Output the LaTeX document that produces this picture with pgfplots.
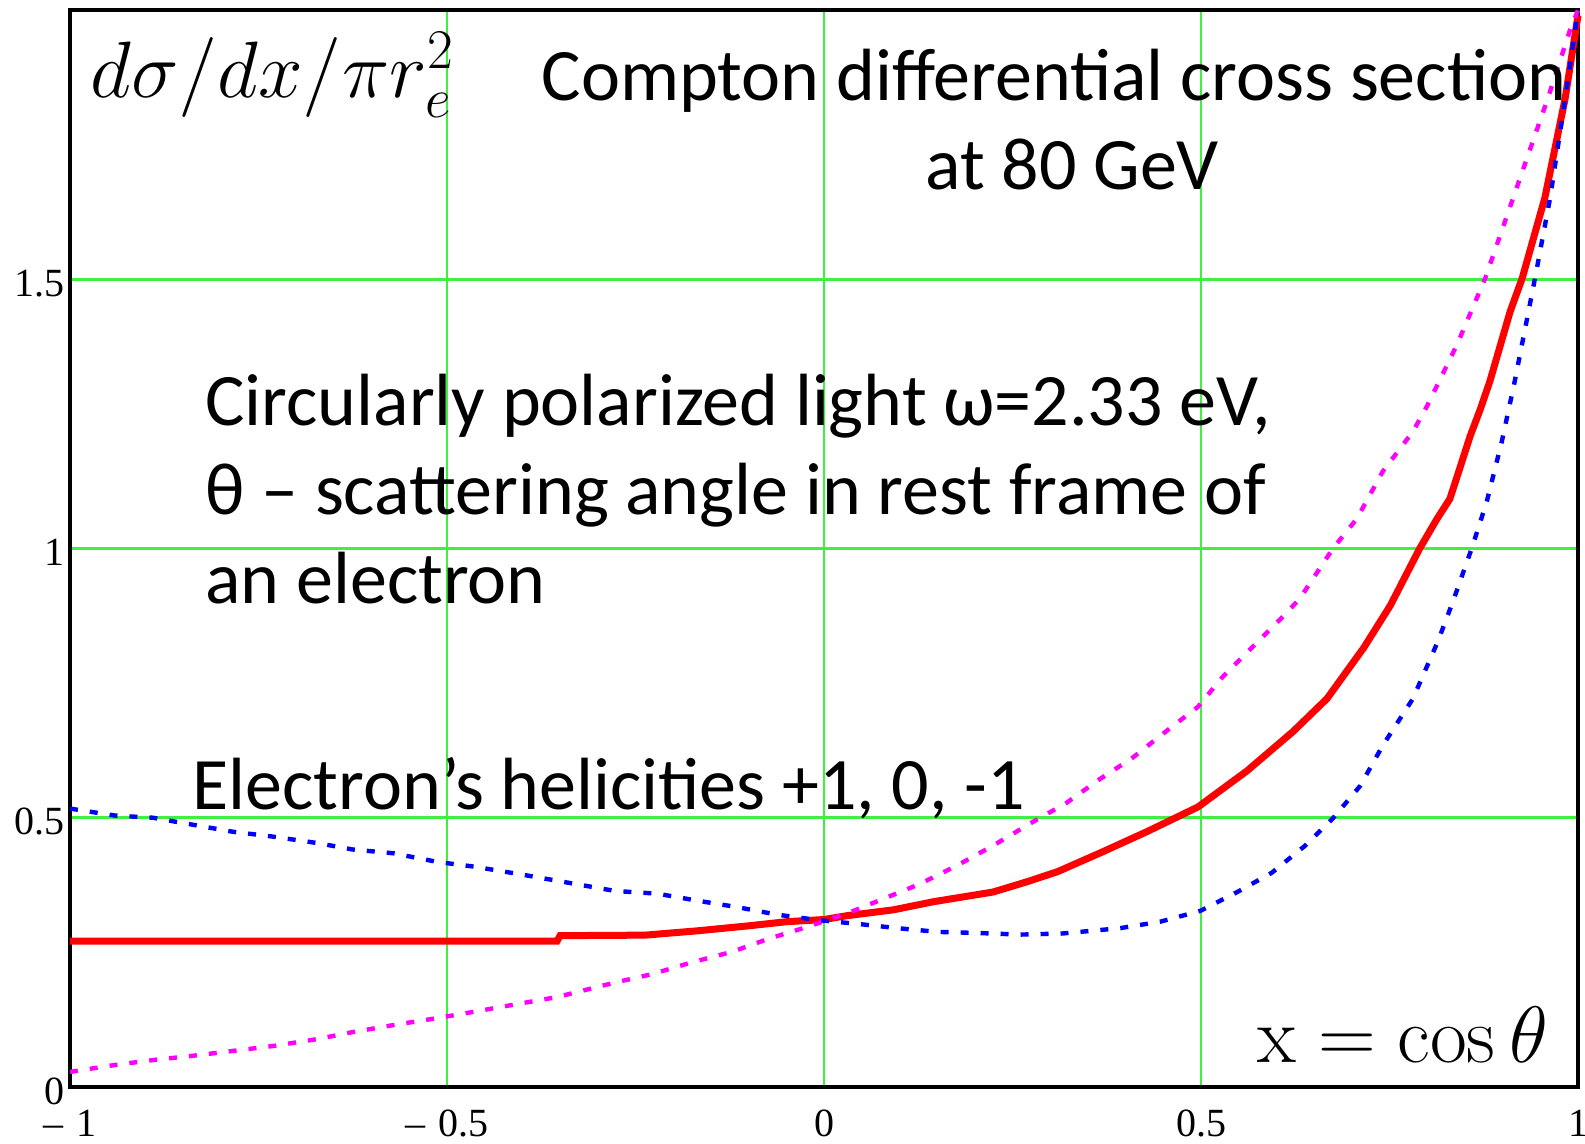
\RequirePackage{fix-cm}
\documentclass[border=0pt]{standalone}
\usepackage[no-math]{fontspec}
\setmainfont{Carlito}
\newfontfamily\tickfont{Liberation Serif}
\usepackage{pgfplots}
\pgfplotsset{compat=1.18}
\definecolor{gridgreen}{RGB}{64,240,64}
\definecolor{mag}{RGB}{255,0,255}
\definecolor{blu}{RGB}{0,0,255}

% helicity +1, 0, -1
\pgfplotstableread{
x y
-1.000 0.271
-0.354 0.271
-0.350 0.281
-0.237 0.282
-0.168 0.290
-0.102 0.299
-0.049 0.307
0.000 0.311
0.030 0.318
0.092 0.329
0.145 0.344
0.224 0.362
0.269 0.381
0.310 0.400
0.370 0.437
0.428 0.474
0.496 0.520
0.561 0.587
0.622 0.660
0.667 0.721
0.716 0.816
0.751 0.894
0.790 1.000
0.813 1.055
0.830 1.092
0.843 1.148
0.857 1.209
0.870 1.257
0.883 1.310
0.910 1.440
0.926 1.502
0.956 1.651
0.983 1.836
1.000 1.990
}\helzero

\pgfplotstableread{
x y
-1.000 0.517
-0.940 0.504
-0.890 0.500
-0.837 0.487
-0.784 0.474
-0.731 0.465
-0.672 0.453
-0.625 0.441
-0.571 0.434
-0.513 0.418
-0.463 0.409
-0.407 0.396
-0.354 0.383
-0.277 0.364
-0.221 0.359
-0.168 0.346
-0.115 0.334
-0.062 0.320
-0.008 0.310
0.044 0.303
0.097 0.295
0.151 0.288
0.204 0.286
0.260 0.283
0.316 0.285
0.393 0.295
0.446 0.307
0.499 0.327
0.548 0.362
0.594 0.398
0.638 0.448
0.675 0.499
0.711 0.559
0.741 0.634
0.781 0.721
0.814 0.827
0.834 0.901
0.859 1.000
0.879 1.087
0.899 1.199
0.916 1.310
0.943 1.502
0.963 1.651
0.983 1.836
0.996 1.961
1.000 2.000
}\helminus

\pgfplotstableread{
x y
-1.000 0.028
-0.940 0.041
-0.890 0.050
-0.837 0.058
-0.784 0.067
-0.731 0.076
-0.672 0.089
-0.625 0.102
-0.571 0.115
-0.513 0.128
-0.463 0.140
-0.407 0.154
-0.354 0.167
-0.280 0.193
-0.227 0.210
-0.174 0.232
-0.122 0.251
-0.074 0.275
-0.023 0.297
0.030 0.322
0.078 0.349
0.127 0.377
0.176 0.411
0.224 0.448
0.273 0.489
0.322 0.528
0.366 0.572
0.408 0.610
0.455 0.662
0.496 0.706
0.529 0.762
0.569 0.818
0.609 0.874
0.631 0.907
0.675 1.000
0.707 1.056
0.741 1.143
0.781 1.217
0.800 1.265
0.840 1.380
0.877 1.502
0.914 1.651
0.960 1.836
0.989 1.961
1.000 2.000
}\helplus

\begin{document}
\begin{tikzpicture}[txt/.style={anchor=base west, inner sep=0pt, font=\fontsize{37}{44}\selectfont}]
\begin{axis}[
    width=754pt, height=538.5pt, scale only axis,
    xmin=-1, xmax=1, ymin=0, ymax=2,
    xtick={-1,-0.5,0,0.5,1},
    xticklabels={{\textendash\,\,1},{\textendash\,\,0.5},0,0.5,1},
    ytick={0,0.5,1,1.5},
    yticklabels={0,0.5,1,1.5},
    major tick length=0pt,
    grid=major,
    grid style={gridgreen, line width=1.3pt},
    axis line style={line width=2pt},
    tick label style={font=\tickfont\fontsize{20}{20}\selectfont},
    xticklabel style={yshift=-8pt},
    yticklabel style={xshift=1pt, yshift=-2pt},
    clip=false,
]

\addplot[red, line width=3.5pt] table {\helzero};
\addplot[blu, line width=2.2pt, dash pattern=on 4pt off 6pt] table {\helminus};
\addplot[mag, line width=2.2pt, dash pattern=on 4pt off 6pt] table {\helplus};

\node[txt, font=\fontsize{40}{44}\selectfont] at (axis cs:-0.973,1.838) {$d\sigma/dx/\pi r_e^2$};
\node[txt] at (axis cs:-0.375,1.831) {Compton differential cross section};
\node[txt] at (axis cs:0.134,1.666) {at 80 GeV};
\node[txt] at (axis cs:-0.821,1.229) {Circularly polarized light ω=2.33 eV,};
\node[txt] at (axis cs:-0.821,1.064) {θ – scattering angle in rest frame of};
\node[txt] at (axis cs:-0.821,0.897) {an electron};
\node[txt] at (axis cs:-0.838,0.516) {Electron’s helicities +1, 0, -1};
\node[txt, font=\fontsize{40}{44}\selectfont] at (axis cs:0.574,0.046) {$\mathrm{x} = \cos\theta$};

\end{axis}
\pgfresetboundingbox
\useasboundingbox ([xshift=-35pt,yshift=-28.5pt]current axis.south west)
    rectangle ([xshift=3.5pt,yshift=5pt]current axis.north east);
\end{tikzpicture}
\end{document}
